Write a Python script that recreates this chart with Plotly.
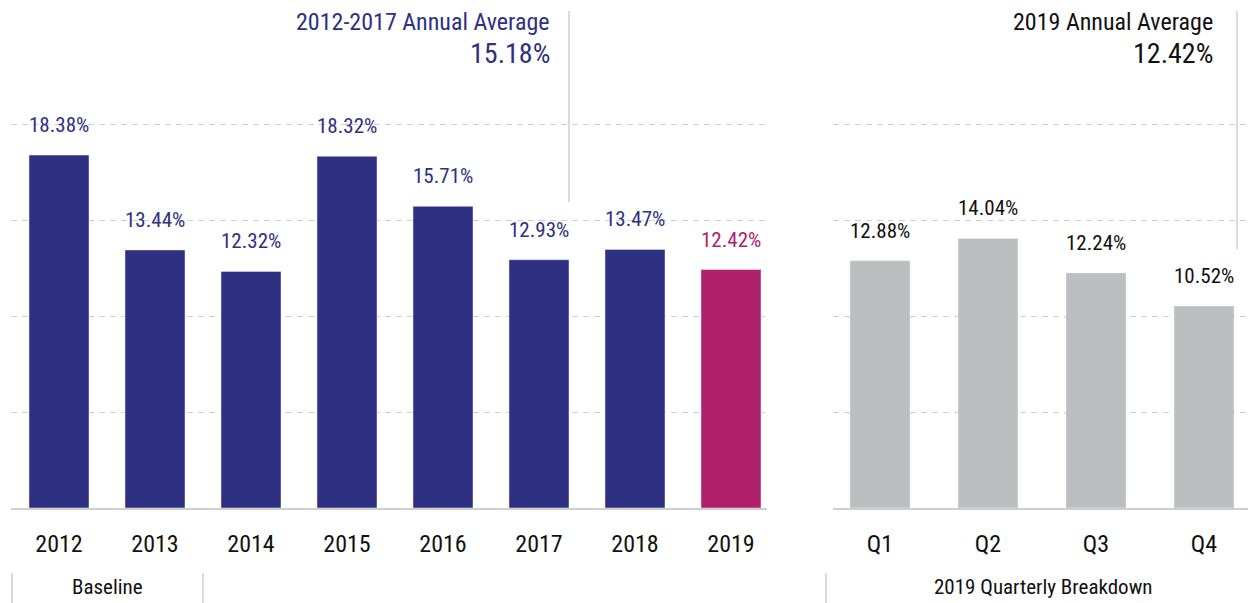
import plotly.graph_objects as go

# Annual rates, 2012-2019
years = ["2012", "2013", "2014", "2015", "2016", "2017", "2018", "2019"]
annual_rates = [18.38, 13.44, 12.32, 18.32, 15.71, 12.93, 13.47, 12.42]

# 2019 quarterly rates
quarters = ["Q1", "Q2", "Q3", "Q4"]
quarter_rates = [12.88, 14.04, 12.24, 10.52]

baseline_avg_label = "2012-2017 Annual Average"
baseline_avg_value = "15.18%"
year_avg_label = "2019 Annual Average"
year_avg_value = "12.42%"

W, H = 1248, 603
NAVY = "#2e3082"
MAGENTA = "#ae206a"
GREY_BAR = "#bdbebf"
LINE = "#cfcfcf"
FONT = ("Roboto Condensed, Noto Sans Condensed, Noto Sans ExtraCondensed, "
        "Liberation Sans Narrow, DejaVu Sans Condensed, sans-serif")


def px(x):
    return x / W


def py(y):
    return 1 - y / H


bar_colors = [NAVY] * (len(years) - 1) + [MAGENTA]
label_colors = bar_colors

fig = go.Figure()
fig.add_trace(go.Bar(x=years, y=annual_rates, marker_color=bar_colors,
                     width=0.625, xaxis="x", yaxis="y", hoverinfo="skip"))
fig.add_trace(go.Bar(x=quarters, y=quarter_rates, marker_color=GREY_BAR,
                     width=60 / 108, xaxis="x2", yaxis="y2", hoverinfo="skip"))

annotations = []
# category index positions keep numeric-looking year labels on their bars
for i, (v, c) in enumerate(zip(annual_rates, label_colors)):
    annotations.append(dict(x=i, y=v, xref="x", yref="y", text=f"{v:.2f}%",
                            showarrow=False, yanchor="middle", yshift=30,
                            font=dict(family=FONT, size=21, color=c)))
for i, v in enumerate(quarter_rates):
    annotations.append(dict(x=i, y=v, xref="x2", yref="y2", text=f"{v:.2f}%",
                            showarrow=False, yanchor="middle", yshift=30,
                            font=dict(family=FONT, size=21, color="#111111")))

# Headline averages
annotations += [
    dict(x=px(552), y=py(22), xref="paper", yref="paper", text=baseline_avg_label,
         showarrow=False, xanchor="right", yanchor="middle",
         font=dict(family=FONT, size=24, color=NAVY)),
    dict(x=px(552), y=py(53), xref="paper", yref="paper", text=baseline_avg_value,
         showarrow=False, xanchor="right", yanchor="middle",
         font=dict(family=FONT, size=28, color=NAVY)),
    dict(x=px(1215), y=py(22), xref="paper", yref="paper", text=year_avg_label,
         showarrow=False, xanchor="right", yanchor="middle",
         font=dict(family=FONT, size=24, color="#111111")),
    dict(x=px(1215), y=py(53), xref="paper", yref="paper", text=year_avg_value,
         showarrow=False, xanchor="right", yanchor="middle",
         font=dict(family=FONT, size=28, color="#111111")),
    # Group captions under the axes
    dict(x=px(107), y=py(587), xref="paper", yref="paper", text="Baseline",
         showarrow=False, xanchor="center", yanchor="middle",
         font=dict(family=FONT, size=21, color="#111111")),
    dict(x=px(1043), y=py(587), xref="paper", yref="paper", text="2019 Quarterly Breakdown",
         showarrow=False, xanchor="center", yanchor="middle",
         font=dict(family=FONT, size=21, color="#111111")),
]

shapes = []
# Vertical dividers next to the headline averages
for x, y0, y1 in [(569, 11, 202), (1237, 11, 249)]:
    shapes.append(dict(type="line", xref="paper", yref="paper",
                       x0=px(x), x1=px(x), y0=py(y0), y1=py(y1),
                       line=dict(color=LINE, width=1.5)))
# Short bracket ticks around the group captions
for x in [12, 203, 826]:
    shapes.append(dict(type="line", xref="paper", yref="paper",
                       x0=px(x), x1=px(x), y0=py(573), y1=py(603),
                       line=dict(color=LINE, width=1.5)))

y_dom = [py(508), py(28)]
yaxis_common = dict(range=[0, 25], domain=y_dom, tickvals=[5, 10, 15, 20],
                    showticklabels=False, showgrid=True, gridcolor=LINE,
                    gridwidth=1, griddash="6px,5px", zeroline=False,
                    showline=False, fixedrange=True)
xaxis_common = dict(type="category", showline=True, linecolor=LINE, linewidth=2,
                    ticks="outside", ticklen=13, tickcolor="rgba(0,0,0,0)",
                    tickfont=dict(family=FONT, size=24, color="#111111"),
                    showgrid=False, zeroline=False, fixedrange=True)

fig.update_layout(
    width=W, height=H,
    margin=dict(l=0, r=0, t=0, b=0),
    paper_bgcolor="white", plot_bgcolor="white",
    showlegend=False,
    xaxis=dict(domain=[px(11), px(767)], range=[-0.5, -0.5 + 756 / 96],
               anchor="y", **xaxis_common),
    yaxis=dict(anchor="x", **yaxis_common),
    xaxis2=dict(domain=[px(833), 1.0], range=[-0.5 + 7 / 108, -0.5 + 422 / 108],
                anchor="y2", **xaxis_common),
    yaxis2=dict(anchor="x2", **yaxis_common),
    annotations=annotations,
    shapes=shapes,
)

fig.write_html("out.html")
